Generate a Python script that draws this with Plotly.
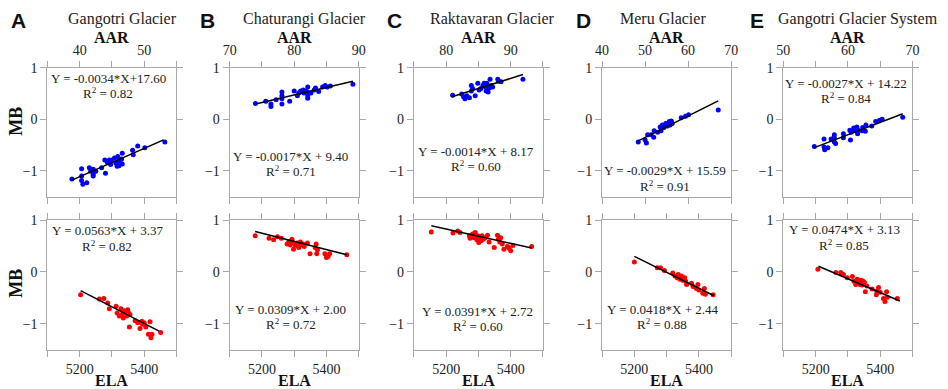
import plotly.graph_objects as go
from plotly.subplots import make_subplots

# ---------------- data ----------------
panel_letters = ["A", "B", "C", "D", "E"]
glacier_names = ["Gangotri Glacier", "Chaturangi Glacier", "Raktavaran Glacier",
                 "Meru Glacier", "Gangotri Glacier System"]

# AAR vs MB (top row)
aar_A = [38.8, 40.3, 40.3, 40.3, 40.5, 41.1, 41.5, 41.7, 42.1, 42.1, 42.1, 42.5, 43.4, 43.9, 44.0,
         44.3, 44.6, 44.8, 45.0, 45.4, 45.6, 45.8, 45.9, 46.0, 46.1, 46.3, 46.5, 46.6, 46.6, 48.2,
         48.3, 49.0, 50.1, 53.2]
mb_aar_A = [-1.16, -0.96, -1.10, -1.19, -1.26, -1.23, -0.94, -1.01, -0.97, -1.07, -1.10, -1.01, -0.94,
            -0.79, -1.05, -0.84, -0.79, -0.88, -0.79, -0.75, -0.85, -0.91, -0.72, -0.82, -0.90, -0.79,
            -0.77, -0.66, -0.87, -0.60, -0.69, -0.52, -0.55, -0.44]
aar_B = [74.0, 75.6, 76.4, 76.4, 77.2, 78.1, 78.1, 78.1, 78.1, 79.3, 80.0, 80.5, 80.7, 81.0, 81.4,
         81.5, 81.8, 82.1, 82.1, 82.1, 82.1, 82.6, 83.1, 83.3, 83.8, 84.4, 84.8, 85.1, 85.6, 89.1]
mb_aar_B = [0.31, 0.35, 0.30, 0.25, 0.38, 0.53, 0.46, 0.40, 0.30, 0.35, 0.55, 0.46, 0.51, 0.55, 0.57,
            0.51, 0.55, 0.63, 0.53, 0.46, 0.41, 0.51, 0.57, 0.61, 0.54, 0.63, 0.66, 0.63, 0.65, 0.68]
aar_C = [81.0, 82.4, 82.7, 82.9, 83.2, 83.6, 83.9, 83.9, 84.1, 84.5, 84.9, 85.1, 85.4, 85.7, 85.9,
         86.1, 86.2, 86.3, 86.5, 86.7, 86.8, 87.0, 87.2, 88.0, 88.1, 88.5, 91.9]
mb_aar_C = [0.47, 0.49, 0.44, 0.40, 0.46, 0.42, 0.66, 0.55, 0.60, 0.46, 0.70, 0.57, 0.60, 0.66, 0.70,
            0.63, 0.55, 0.70, 0.53, 0.61, 0.78, 0.66, 0.63, 0.78, 0.74, 0.73, 0.78]
aar_D = [48.4, 50.0, 50.3, 50.6, 51.4, 52.0, 52.1, 52.9, 53.5, 53.7, 54.0, 54.4, 54.8, 55.2, 55.6,
         55.8, 56.1, 56.3, 58.4, 59.4, 60.1, 67.0]
mb_aar_D = [-0.44, -0.40, -0.46, -0.30, -0.30, -0.35, -0.22, -0.25, -0.15, -0.22, -0.11, -0.16, -0.08,
            -0.13, -0.04, -0.11, -0.03, -0.08, 0.03, 0.06, 0.09, 0.18]
aar_E = [54.8, 56.3, 56.3, 56.4, 56.9, 57.4, 57.9, 57.9, 57.9, 58.1, 59.3, 59.3, 60.3, 60.4, 60.5,
         60.9, 61.1, 61.4, 61.5, 61.6, 62.2, 62.3, 62.7, 62.8, 63.7, 64.3, 64.9, 65.3, 68.5]
mb_aar_E = [-0.53, -0.38, -0.54, -0.59, -0.55, -0.38, -0.30, -0.36, -0.44, -0.47, -0.28, -0.36, -0.21,
            -0.40, -0.25, -0.17, -0.22, -0.15, -0.28, -0.21, -0.22, -0.16, -0.23, -0.11, -0.13, -0.04,
            -0.02, 0.00, 0.04]

# ELA vs MB (bottom row)
ela_A = [5203, 5261, 5275, 5287, 5292, 5313, 5316, 5323, 5328, 5331, 5335, 5338, 5342, 5346, 5349,
         5352, 5354, 5356, 5372, 5380, 5387, 5393, 5395, 5400, 5405, 5413, 5418, 5421, 5424, 5451]
mb_ela_A = [-0.44, -0.52, -0.51, -0.60, -0.71, -0.66, -0.79, -0.85, -0.71, -0.82, -0.89, -0.75, -0.79,
            -0.85, -0.73, -0.79, -1.06, -0.82, -0.94, -0.98, -1.09, -0.95, -1.01, -0.98, -1.06, -1.20,
            -0.96, -1.27, -1.20, -1.17]
ela_B = [5179, 5222, 5236, 5248, 5260, 5278, 5283, 5288, 5293, 5296, 5298, 5304, 5309, 5314, 5319,
         5321, 5327, 5331, 5341, 5349, 5365, 5368, 5370, 5372, 5395, 5400, 5405, 5410, 5463]
mb_ela_B = [0.70, 0.65, 0.62, 0.68, 0.65, 0.54, 0.58, 0.52, 0.63, 0.57, 0.44, 0.51, 0.56, 0.47, 0.58,
            0.52, 0.54, 0.49, 0.56, 0.35, 0.47, 0.54, 0.35, 0.43, 0.35, 0.28, 0.30, 0.35, 0.33]
ela_C = [5154, 5221, 5236, 5243, 5272, 5274, 5282, 5287, 5290, 5295, 5298, 5301, 5305, 5308, 5311,
         5315, 5321, 5328, 5333, 5349, 5359, 5362, 5366, 5369, 5374, 5379, 5390, 5395, 5400, 5407, 5465]
mb_ela_C = [0.77, 0.75, 0.79, 0.76, 0.70, 0.65, 0.73, 0.66, 0.76, 0.62, 0.70, 0.57, 0.65, 0.60, 0.70,
            0.63, 0.66, 0.71, 0.58, 0.47, 0.71, 0.63, 0.58, 0.66, 0.54, 0.44, 0.49, 0.46, 0.41, 0.51, 0.49]
ela_D = [5200, 5271, 5281, 5293, 5319, 5326, 5333, 5336, 5341, 5346, 5350, 5356, 5359, 5362, 5377,
         5382, 5392, 5397, 5400, 5412, 5417, 5420, 5444]
mb_ela_D = [0.19, 0.08, 0.08, 0.03, -0.02, -0.08, -0.11, -0.05, -0.14, -0.08, -0.16, -0.11, -0.18,
            -0.24, -0.22, -0.28, -0.32, -0.24, -0.35, -0.41, -0.32, -0.43, -0.44]
ela_E = [5207, 5263, 5278, 5286, 5298, 5314, 5319, 5324, 5329, 5334, 5337, 5341, 5344, 5347, 5351,
         5354, 5359, 5375, 5388, 5390, 5395, 5400, 5410, 5415, 5420, 5422, 5453]
mb_ela_E = [0.05, -0.01, -0.01, -0.05, -0.11, -0.09, -0.18, -0.24, -0.14, -0.19, -0.24, -0.16, -0.25,
            -0.18, -0.20, -0.38, -0.27, -0.33, -0.44, -0.37, -0.30, -0.39, -0.51, -0.57, -0.38, -0.49,
            -0.51]

# regression line end points
fit_aar_x = [[38.8, 53.0], [74.0, 89.1], [80.9, 91.9], [48.4, 67.0], [54.8, 68.5]]
fit_aar_y = [[-1.18, -0.40], [0.30, 0.74], [0.44, 0.87], [-0.42, 0.36], [-0.55, 0.11]]
fit_ela_x = [[5203, 5446], [5179, 5463], [5154, 5465], [5200, 5447], [5209, 5461]]
fit_ela_y = [[-0.36, -1.14], [0.78, 0.33], [0.89, 0.46], [0.30, -0.46], [0.11, -0.56]]

eq_aar = ["Y = -0.0034*X+17.60", "Y = -0.0017*X + 9.40", "Y = -0.0014*X + 8.17",
          "Y = -0.0029*X + 15.59", "Y = -0.0027*X + 14.22"]
r2_aar = ["0.82", "0.71", "0.60", "0.91", "0.84"]
eq_ela = ["Y = 0.0563*X + 3.37", "Y = 0.0309*X + 2.00", "Y = 0.0391*X + 2.72",
          "Y = 0.0418*X + 2.44", "Y = 0.0474*X + 3.13"]
r2_ela = ["0.82", "0.72", "0.60", "0.88", "0.85"]

# axis ranges, labelled ticks and minor tick spacing
aar_range = [[35, 55], [70, 90], [75, 95], [40, 70], [50, 70]]
aar_labels = [[40, 50], [70, 80, 90], [80, 90], [40, 50, 60, 70], [50, 60, 70]]
aar_minor = [5, 5, 5, 10, 5]
ela_range = [5100, 5500]
ela_labels = [5200, 5400]
ela_minor = 100
mb_range = [-1.5, 1.0]
mb_labels = [1, 0, -1]

aar_x = [aar_A, aar_B, aar_C, aar_D, aar_E]
aar_mb = [mb_aar_A, mb_aar_B, mb_aar_C, mb_aar_D, mb_aar_E]
ela_x = [ela_A, ela_B, ela_C, ela_D, ela_E]
ela_mb = [mb_ela_A, mb_ela_B, mb_ela_C, mb_ela_D, mb_ela_E]

# ---------------- layout geometry (pixels) ----------------
W, H = 948, 389
lefts = [41, 226, 413, 604, 788]
pw = 131
top_row = (62, 193)
bot_row = (217, 349)

def fx(px):
    return px / W

def fy(py):
    return 1 - py / H

serif = "Liberation Serif, Times New Roman, serif"
sans = "Liberation Sans, Arial, sans-serif"
frame = "#a8a8a8"

fig = make_subplots(rows=2, cols=5)

for i in range(5):
    fig.add_trace(go.Scatter(x=aar_x[i], y=aar_mb[i], mode="markers",
                             marker=dict(color="#0000ff", size=5), showlegend=False),
                  row=1, col=i + 1)
    fig.add_trace(go.Scatter(x=fit_aar_x[i], y=fit_aar_y[i], mode="lines",
                             line=dict(color="black", width=1.5), showlegend=False),
                  row=1, col=i + 1)
    fig.add_trace(go.Scatter(x=ela_x[i], y=ela_mb[i], mode="markers",
                             marker=dict(color="#ff0000", size=5), showlegend=False),
                  row=2, col=i + 1)
    fig.add_trace(go.Scatter(x=fit_ela_x[i], y=fit_ela_y[i], mode="lines",
                             line=dict(color="black", width=1.5), showlegend=False),
                  row=2, col=i + 1)

axis_common = dict(showline=True, mirror="ticks", linecolor=frame, linewidth=1,
                   ticks="outside", ticklen=6, tickcolor=frame, tickwidth=1,
                   showgrid=False, zeroline=False,
                   tickfont=dict(family=serif, size=14, color="#222"))

def minor(d, start):
    return dict(ticks="outside", ticklen=6, tickcolor=frame, tickwidth=1,
                dtick=d, tick0=start, showgrid=False)

for i in range(5):
    xd = [fx(lefts[i]), fx(lefts[i] + pw)]
    k = i + 1
    sfx = "" if k == 1 else str(k)
    fig.layout["xaxis" + sfx].update(
        domain=xd, side="top", range=aar_range[i], tickvals=aar_labels[i],
        minor=minor(aar_minor[i], aar_range[i][0]), **axis_common)
    fig.layout["yaxis" + sfx].update(
        domain=[fy(top_row[1]), fy(top_row[0])], range=mb_range, tickvals=mb_labels,
        **axis_common)
    k2 = i + 6
    fig.layout["xaxis" + str(k2)].update(
        domain=xd, range=ela_range, tickvals=ela_labels,
        minor=minor(ela_minor, ela_range[0]), **axis_common)
    fig.layout["yaxis" + str(k2)].update(
        domain=[fy(bot_row[1]), fy(bot_row[0])], range=mb_range, tickvals=mb_labels,
        **axis_common)

annotations = []

def ann(text, px, py, size, family=serif, bold=False, angle=0, color="#222"):
    if bold:
        text = "<b>" + text + "</b>"
    annotations.append(dict(text=text, x=fx(px), y=fy(py), xref="paper", yref="paper",
                            showarrow=False, xanchor="center", yanchor="middle",
                            font=dict(family=family, size=size, color=color), textangle=angle))

letter_x = [12, 203, 393, 585, 761]
title_x = [117, 302, 493, 666, 864]
centers = [l + pw / 2 for l in lefts]
eq_top_pos = [(103, 73), (288, 152), (476, 147), (668, 167), (852, 78)]
eq_bot_pos = [(102, 228), (288, 308), (478, 310), (665, 308), (850, 227)]

for i in range(5):
    ann(panel_letters[i], letter_x[i], 14, 21, family=sans, bold=True, color="#111")
    ann(glacier_names[i], title_x[i], 12, 16, color="#222")
    ann("AAR", centers[i], 31, 16, bold=True, color="#111")
    ann("ELA", centers[i], 380, 16, bold=True, color="#111")
    ex, ey = eq_top_pos[i]
    ann(eq_aar[i], ex, ey, 13)
    ann("R<sup>2</sup> = " + r2_aar[i], ex, ey + 15, 13)
    ex, ey = eq_bot_pos[i]
    ann(eq_ela[i], ex, ey, 13)
    ann("R<sup>2</sup> = " + r2_ela[i], ex, ey + 15, 13)

ann("MB", 9, 116, 18, bold=True, angle=-90, color="#111")
ann("MB", 9, 281, 18, bold=True, angle=-90, color="#111")

fig.update_layout(width=W, height=H, margin=dict(l=0, r=0, t=0, b=0),
                  paper_bgcolor="white", plot_bgcolor="white",
                  annotations=annotations, showlegend=False)

fig.write_html("out.html", config={"displayModeBar": False},
               post_script="document.documentElement.style.margin='0';"
                           "document.body.style.margin='0';"
                           "document.body.style.overflow='hidden';")
